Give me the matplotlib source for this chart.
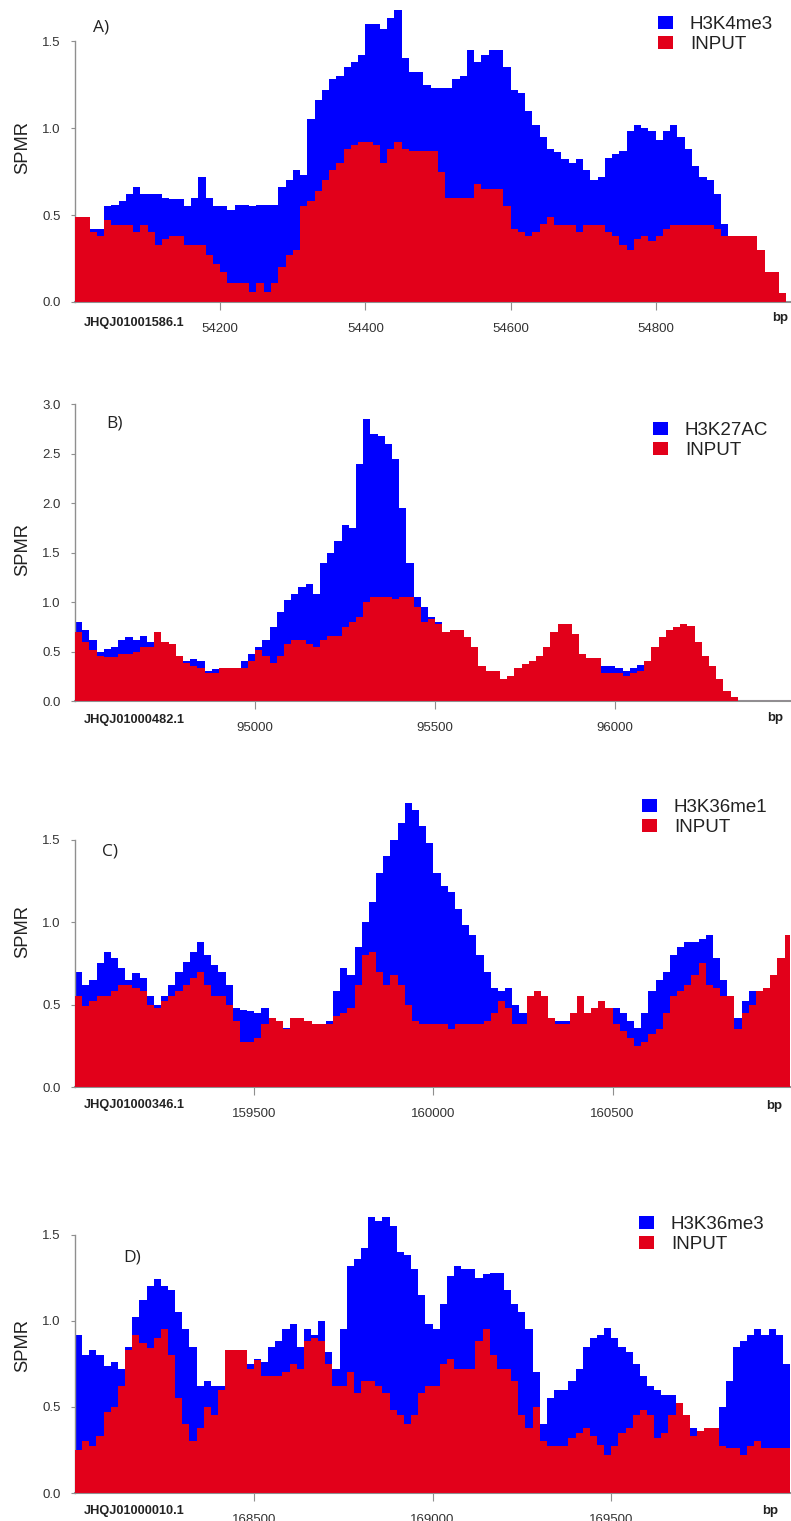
import numpy as np
import matplotlib
matplotlib.use("Agg")
import matplotlib.pyplot as plt
from matplotlib.patches import Patch

# Daten: Stufenwerte (SPMR) je Bin

# A) JHQJ01001586.1, H3K4me3
a_start, a_bin = 54000, 10
a_blue = [0.45, 0.45, 0.42, 0.42, 0.55, 0.56, 0.58, 0.62, 0.66, 0.62,
          0.62, 0.62, 0.60, 0.59, 0.59, 0.55, 0.60, 0.72, 0.60, 0.55,
          0.55, 0.53, 0.56, 0.56, 0.55, 0.56, 0.56, 0.56, 0.66, 0.70,
          0.76, 0.73, 1.05, 1.16, 1.22, 1.28, 1.30, 1.35, 1.38, 1.42,
          1.60, 1.60, 1.57, 1.63, 1.68,
          1.40, 1.32, 1.32, 1.25, 1.23, 1.23, 1.23, 1.28, 1.30, 1.45,
          1.38, 1.42, 1.45, 1.45, 1.35, 1.22, 1.20, 1.10, 1.02, 0.95,
          0.88, 0.86, 0.82, 0.80, 0.82, 0.76, 0.70, 0.72, 0.83, 0.85,
          0.87, 0.98, 1.02, 1.00, 0.98, 0.93, 0.98, 1.02, 0.95, 0.88,
          0.78, 0.72, 0.70, 0.62, 0.45, 0, 0, 0, 0, 0, 0, 0, 0]
a_red = [0.49, 0.49, 0.40, 0.38, 0.47, 0.44, 0.44, 0.44, 0.40, 0.44,
         0.40, 0.33, 0.36, 0.38, 0.38, 0.33, 0.33, 0.33, 0.27, 0.22,
         0.17, 0.11, 0.11, 0.11, 0.06, 0.11, 0.06, 0.11, 0.20, 0.27,
         0.30, 0.55, 0.58, 0.64, 0.70, 0.76, 0.80, 0.88, 0.90, 0.92,
         0.92, 0.90, 0.80, 0.88, 0.92,
         0.88, 0.87, 0.87, 0.87, 0.87, 0.75, 0.60, 0.60, 0.60, 0.60,
         0.68, 0.65, 0.65, 0.65, 0.55, 0.42, 0.40, 0.38, 0.40, 0.45,
         0.49, 0.44, 0.44, 0.44, 0.40, 0.44, 0.44, 0.44, 0.40, 0.38,
         0.33, 0.30, 0.36, 0.38, 0.35, 0.38, 0.42, 0.44, 0.44, 0.44,
         0.44, 0.44, 0.44, 0.42, 0.38, 0.38, 0.38, 0.38, 0.38, 0.30,
         0.17, 0.17, 0.05]

# B) JHQJ01000482.1, H3K27AC
b_start, b_bin = 94500, 20
b_blue = [0.80, 0.72, 0.62, 0.50, 0.53, 0.55, 0.62, 0.65, 0.62, 0.66,
          0.60, 0.65, 0.60, 0.55, 0.45, 0.40, 0.42, 0.40, 0.30, 0.32,
          0.33, 0.33, 0.30, 0.40, 0.48, 0.55, 0.62, 0.75, 0.90, 1.02,
          1.08, 1.15, 1.18, 1.08, 1.40, 1.50, 1.62, 1.78, 1.75, 2.40,
          2.85, 2.70, 2.68, 2.60, 2.45,
          1.95, 1.40, 1.05, 0.95, 0.85, 0.80, 0.65, 0.72,
          0, 0, 0, 0, 0, 0, 0, 0, 0, 0, 0, 0, 0, 0, 0, 0, 0, 0, 0,
          0.40, 0.35, 0.35, 0.33, 0.30, 0.33, 0.36, 0.40,
          0, 0, 0, 0, 0, 0, 0, 0, 0, 0, 0, 0, 0, 0, 0, 0, 0, 0, 0, 0]
b_red = [0.70, 0.60, 0.52, 0.45, 0.44, 0.44, 0.48, 0.48, 0.50, 0.55,
         0.55, 0.70, 0.60, 0.58, 0.45, 0.38, 0.35, 0.33, 0.28, 0.28,
         0.33, 0.33, 0.33, 0.33, 0.40, 0.52, 0.45, 0.38, 0.45, 0.58,
         0.62, 0.62, 0.58, 0.55, 0.62, 0.66, 0.66, 0.75, 0.80, 0.85,
         1.00, 1.05, 1.05, 1.05, 1.03,
         1.05, 1.05, 0.95, 0.80, 0.83, 0.78, 0.70, 0.72, 0.72, 0.65,
         0.55, 0.35, 0.30, 0.30, 0.22, 0.25, 0.33, 0.37, 0.40, 0.45,
         0.55, 0.70, 0.78, 0.78, 0.68, 0.48, 0.43, 0.43, 0.28, 0.28,
         0.28, 0.25, 0.28, 0.30, 0.40, 0.55, 0.65, 0.72, 0.75, 0.78,
         0.76, 0.60, 0.45, 0.35, 0.22, 0.10, 0.04, 0, 0, 0,
         0, 0, 0, 0, 0]

# C) JHQJ01000346.1, H3K36me1
c_start, c_bin = 159000, 20
c_blue = [0.70, 0.62, 0.65, 0.75, 0.82, 0.78, 0.72, 0.65, 0.69, 0.66,
          0.55, 0.50, 0.55, 0.62, 0.70, 0.76, 0.82, 0.88, 0.80, 0.74,
          0.70, 0.62, 0.48, 0.47, 0.46, 0.45, 0.48, 0.40, 0.40, 0.36,
          0.38, 0.40, 0.38, 0.38, 0.38, 0.40, 0.58, 0.72, 0.68, 0.85,
          1.00, 1.12, 1.30, 1.40, 1.50,
          1.60, 1.72, 1.68, 1.58, 1.48, 1.30, 1.22, 1.18, 1.08, 0.98,
          0.92, 0.80, 0.70, 0.60, 0.58, 0.60, 0.50, 0.45, 0.40, 0.40,
          0.40, 0.40, 0.40, 0.40, 0.40, 0.40, 0.40, 0.40, 0.40, 0.40,
          0.48, 0.45, 0.40, 0.36, 0.45, 0.58, 0.65, 0.70, 0.80, 0.85,
          0.88, 0.88, 0.90, 0.92, 0.78, 0.65, 0.55, 0.42, 0.52, 0.58,
          0.40, 0.40, 0.40, 0.40, 0.40]
c_red = [0.55, 0.49, 0.52, 0.55, 0.55, 0.58, 0.62, 0.62, 0.60, 0.58,
         0.50, 0.48, 0.52, 0.55, 0.58, 0.62, 0.66, 0.70, 0.62, 0.55,
         0.55, 0.50, 0.40, 0.27, 0.27, 0.30, 0.38, 0.42, 0.40, 0.35,
         0.42, 0.42, 0.40, 0.38, 0.38, 0.38, 0.43, 0.45, 0.48, 0.62,
         0.80, 0.82, 0.70, 0.62, 0.68,
         0.62, 0.50, 0.40, 0.38, 0.38, 0.38, 0.38, 0.35, 0.38, 0.38,
         0.38, 0.38, 0.40, 0.45, 0.52, 0.48, 0.38, 0.38, 0.55, 0.58,
         0.55, 0.42, 0.38, 0.38, 0.45, 0.55, 0.45, 0.48, 0.52, 0.48,
         0.38, 0.34, 0.30, 0.25, 0.27, 0.32, 0.35, 0.45, 0.55, 0.58,
         0.62, 0.68, 0.75, 0.62, 0.60, 0.55, 0.55, 0.35, 0.45, 0.50,
         0.58, 0.60, 0.68, 0.78, 0.92]

# D) JHQJ01000010.1, H3K36me3
d_start, d_bin = 168000, 20
d_blue = [0.92, 0.80, 0.83, 0.80, 0.74, 0.76, 0.72, 0.85, 1.02, 1.12,
          1.20, 1.24, 1.20, 1.18, 1.05, 0.95, 0.85, 0.62, 0.65, 0.62,
          0.62, 0.75, 0.80, 0.80, 0.75, 0.78, 0.76, 0.85, 0.88, 0.95,
          0.98, 0.85, 0.95, 0.92, 1.00, 0.82, 0.72, 0.95, 1.32, 1.36,
          1.42, 1.60, 1.58, 1.60, 1.55,
          1.40, 1.38, 1.30, 1.15, 0.98, 0.95, 1.10, 1.26, 1.32, 1.30,
          1.30, 1.25, 1.27, 1.28, 1.28, 1.18, 1.10, 1.05, 0.95, 0.70,
          0.40, 0.55, 0.60, 0.60, 0.65, 0.72, 0.85, 0.90, 0.92, 0.96,
          0.90, 0.85, 0.82, 0.75, 0.68, 0.62, 0.60, 0.57, 0.57, 0.45,
          0.42, 0.38, 0.30, 0.30, 0.30, 0.50, 0.65, 0.85, 0.88, 0.92,
          0.95, 0.92, 0.95, 0.92, 0.75]
d_red = [0.25, 0.30, 0.27, 0.33, 0.47, 0.50, 0.62, 0.83, 0.92, 0.87,
         0.84, 0.90, 0.95, 0.80, 0.55, 0.40, 0.30, 0.38, 0.50, 0.45,
         0.60, 0.83, 0.83, 0.83, 0.72, 0.77, 0.68, 0.68, 0.68, 0.70,
         0.75, 0.72, 0.88, 0.90, 0.88, 0.75, 0.62, 0.62, 0.70, 0.58,
         0.65, 0.65, 0.62, 0.58, 0.48,
         0.45, 0.40, 0.45, 0.58, 0.62, 0.62, 0.75, 0.78, 0.72, 0.72,
         0.72, 0.88, 0.95, 0.80, 0.72, 0.72, 0.65, 0.45, 0.38, 0.50,
         0.30, 0.27, 0.27, 0.27, 0.32, 0.35, 0.38, 0.33, 0.28, 0.22,
         0.27, 0.35, 0.38, 0.45, 0.48, 0.45, 0.32, 0.35, 0.45, 0.52,
         0.45, 0.33, 0.36, 0.38, 0.38, 0.27, 0.26, 0.26, 0.22, 0.27,
         0.30, 0.26, 0.26, 0.26, 0.26]

BLAU = '#0000FF'
ROT = '#E2001A'
GRAU = '#8f8f8f'
MAGENTA = '#d35fc8'

W, H = 791, 1521


def fig_box(links, oben, rechts, unten):
    """Pixelrechteck der Vorlage -> Figurkoordinaten."""
    return [links / W, 1 - unten / H, (rechts - links) / W, (unten - oben) / H]


def fig_xy(x, y):
    return (x / W, 1 - y / H)


plt.rcParams['font.family'] = ['Liberation Sans', 'DejaVu Sans']

fig = plt.figure(figsize=(W / 100, H / 100), dpi=100)

panels = [
    dict(buchstabe='A)', contig='JHQJ01001586.1', mark='H3K4me3',
         start=a_start, bin=a_bin, blue=a_blue, red=a_red,
         oben=5, unten=302, ytop=1.707, xlim=(54000, 54985),
         xticks=[54200, 54400, 54600, 54800], yticks=[0, 0.5, 1.0, 1.5],
         pos_buchstabe=(93, 28), pos_leg=(658, 16), pos_ylab=148,
         pos_contig=323, pos_bp=(788, 318)),
    dict(buchstabe='B)', contig='JHQJ01000482.1', mark='H3K27AC',
         start=b_start, bin=b_bin, blue=b_blue, red=b_red,
         oben=395, unten=701, ytop=3.094, xlim=(94500, 96485),
         xticks=[95000, 95500, 96000],
         yticks=[0, 0.5, 1.0, 1.5, 2.0, 2.5, 3.0],
         pos_buchstabe=(106, 423), pos_leg=(653, 422), pos_ylab=550,
         pos_contig=720, pos_bp=(783, 718)),
    dict(buchstabe='C)', contig='JHQJ01000346.1', mark='H3K36me1',
         start=c_start, bin=c_bin, blue=c_blue, red=c_red,
         oben=780, unten=1087, ytop=1.862, xlim=(159000, 160995),
         xticks=[159500, 160000, 160500], yticks=[0, 0.5, 1.0, 1.5],
         pos_buchstabe=(102, 851), pos_leg=(642, 799), pos_ylab=932,
         pos_contig=1105, pos_bp=(782, 1106)),
    dict(buchstabe='D)', contig='JHQJ01000010.1', mark='H3K36me3',
         start=d_start, bin=d_bin, blue=d_blue, red=d_red,
         oben=1195, unten=1493, ytop=1.730, xlim=(168000, 170000),
         xticks=[168500, 169000, 169500], yticks=[0, 0.5, 1.0, 1.5],
         pos_buchstabe=(123, 1257), pos_leg=(639, 1216), pos_ylab=1345,
         pos_contig=1511, pos_bp=(778, 1511)),
]

for p in panels:
    ax = fig.add_axes(fig_box(75, p['oben'], 790, p['unten']))

    # Stufenflaechen: Markierung hinten, INPUT darueber
    kanten = p['start'] + p['bin'] * np.arange(len(p['blue']) + 1)
    ax.stairs(p['blue'], kanten, fill=True, color=BLAU, baseline=0, zorder=2)
    ax.stairs(p['red'], kanten, fill=True, color=ROT, baseline=0, zorder=3)
    ax.axhline(0, color=MAGENTA, lw=0.8, zorder=4)

    ax.set_xlim(*p['xlim'])
    ax.set_ylim(0, p['ytop'])
    ax.set_xticks(p['xticks'])
    ax.set_xticklabels([str(t) for t in p['xticks']])
    ax.set_yticks(p['yticks'])
    ax.set_yticklabels([f"{t:.1f}" for t in p['yticks']])

    for s in ['top', 'right']:
        ax.spines[s].set_visible(False)
    ax.spines['left'].set_color(GRAU)
    ax.spines['left'].set_linewidth(1.0)
    ax.spines['left'].set_bounds(0, p['yticks'][-1])
    ax.spines['bottom'].set_color(GRAU)
    ax.spines['bottom'].set_linewidth(1.5)

    ax.tick_params(axis='x', length=5.5, width=0.8, color=GRAU, pad=9.5,
                   labelsize=9.5, labelcolor='#333333')
    ax.tick_params(axis='y', length=3, width=0.8, color=GRAU, pad=7.5,
                   labelsize=9.5, labelcolor='#333333')
    ax.patch.set_alpha(0)

    # Legende
    handles = [Patch(facecolor=BLAU, edgecolor='none', label=p['mark']),
               Patch(facecolor=ROT, edgecolor='none', label='INPUT')]
    ax.legend(handles=handles, loc='upper left',
              bbox_to_anchor=fig_xy(*p['pos_leg']), bbox_transform=fig.transFigure,
              frameon=False, fontsize=13.5, handlelength=0.8, handleheight=0.7,
              handletextpad=0.9, labelspacing=0.15, borderpad=0, borderaxespad=0,
              labelcolor='#222222')

    # Beschriftungen
    fig.text(*fig_xy(*p['pos_buchstabe']), p['buchstabe'], family='Open Sans',
             fontsize=12.5, va='center', ha='left', color='#222222')
    fig.text(*fig_xy(23, p['pos_ylab']), 'SPMR', rotation=90, fontsize=13.2,
             ha='center', va='center', color='#222222')
    fig.text(*fig_xy(84, p['pos_contig']), p['contig'], fontsize=9.2,
             weight='bold', ha='left', va='center', color='#222222')
    fig.text(*fig_xy(*p['pos_bp']), 'bp', fontsize=9.5, weight='bold',
             ha='right', va='center', color='#222222')

fig.savefig('out.png', dpi=100)
